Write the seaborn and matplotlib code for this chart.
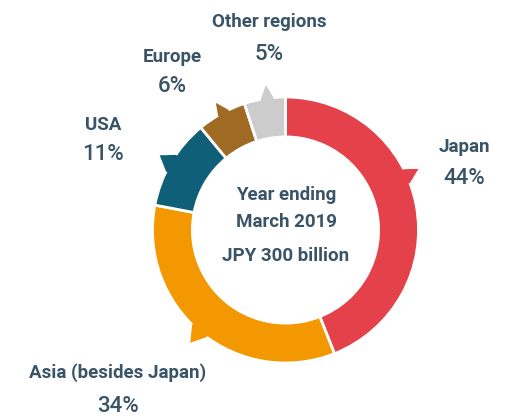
import numpy as np
import matplotlib
matplotlib.use("Agg")
import matplotlib.pyplot as plt
import seaborn as sns
from matplotlib.patches import Polygon

sns.set_theme(style="white")
plt.rcParams["font.family"] = ["Liberation Sans Narrow", "Roboto", "DejaVu Sans"]

regions = ["Japan", "Asia (besides Japan)", "USA", "Europe", "Other regions"]
shares = [44, 34, 11, 6, 5]
colors = ["#E5414B", "#F39800", "#0F5F78", "#9E6A24", "#CCCCCC"]
center_lines = ["Year ending", "March 2019", "JPY 300 billion"]

TEXT = "#3A5467"

# pixel layout of the picture: ring centre and outer radius
CX, CY, R = 285.5, 230, 133
W, H = 519, 419

# pointer notches: base angle from, base angle to, tip angle, tip radius
pointers = [
    (20.7, 27.2, 24.7, 1.10),
    (-134.6, -126.4, -130.2, 1.11),
    (145.6, 153.9, 149.3, 1.10),
    (115.4, 120.5, 118.7, 1.09),
    (95.2, 100.7, 97.7, 1.10),
]

# label positions in pixels (name line, percent line)
label_pos = [
    (464, 147, 178),
    (118, 373, 407),
    (103, 125, 155),
    (172, 57, 87),
    (269, 22, 54),
]


def px(x, y):
    return (x - CX) / R, (CY - y) / R


def polar(a, r):
    a = np.deg2rad(a)
    return r * np.cos(a), r * np.sin(a)


def main():
    fig = plt.figure(figsize=(W / 100, H / 100), dpi=100)
    ax = fig.add_axes([0, 0, 1, 1])

    ax.pie(
        shares,
        colors=colors,
        startangle=90,
        counterclock=False,
        radius=1.0,
        wedgeprops=dict(width=0.3, edgecolor="white", linewidth=2),
    )
    # pie() resets the limits, so set them afterwards
    ax.set_xlim(-CX / R, (W - CX) / R)
    ax.set_ylim(-(H - CY) / R, CY / R)
    ax.set_aspect("equal")
    ax.axis("off")

    for (a1, a2, ta, tr), c in zip(pointers, colors):
        pts = [polar(a1, 0.96), polar(a1, 1.0), polar(ta, tr), polar(a2, 1.0), polar(a2, 0.96)]
        ax.add_patch(Polygon(pts, closed=True, facecolor=c, edgecolor="none", zorder=5))

    for name, share, (x, y1, y2) in zip(regions, shares, label_pos):
        ax.text(*px(x, y1), name, ha="center", va="center", fontsize=13.5,
                fontweight="bold", color=TEXT)
        ax.text(*px(x, y2), f"{share}%", ha="center", va="center", fontsize=16,
                fontweight="medium", color=TEXT)

    for line, y in zip(center_lines, [195, 222, 256]):
        ax.text(*px(286, y), line, ha="center", va="center", fontsize=13.5,
                fontweight="bold", color=TEXT)

    fig.savefig("out.png", dpi=100)
    plt.close(fig)


if __name__ == "__main__":
    main()
